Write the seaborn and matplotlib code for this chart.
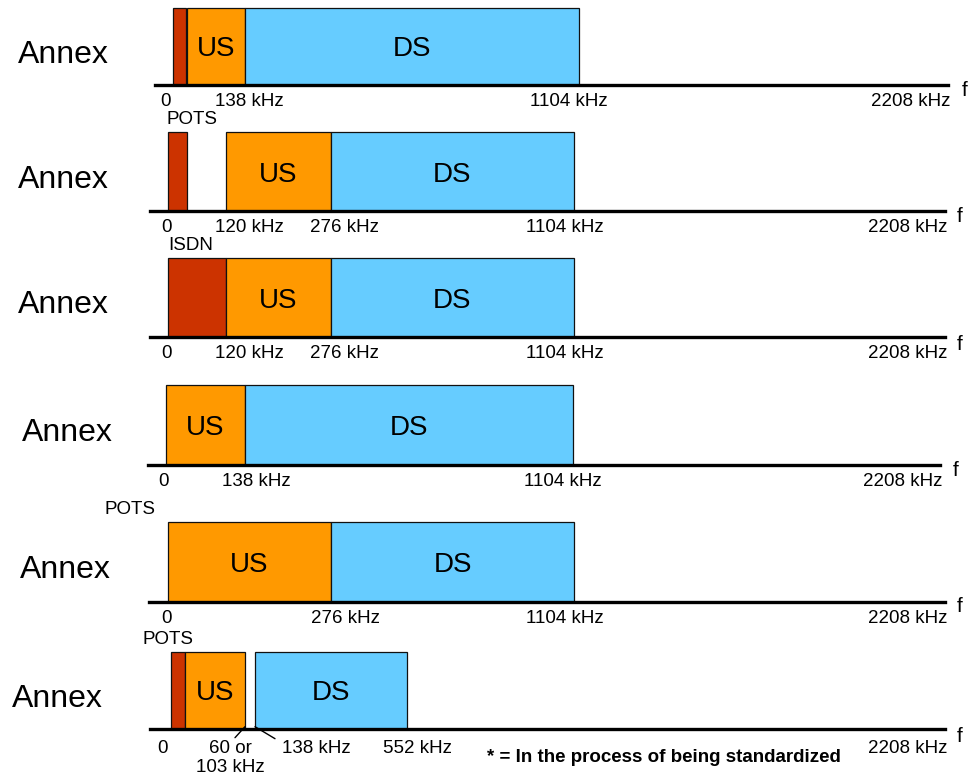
import numpy as np
import matplotlib
matplotlib.use("Agg")
import matplotlib.pyplot as plt
import seaborn as sns

# ---------------- data ----------------
row_titles = ["Annex", "Annex", "Annex", "Annex", "Annex", "Annex"]
row_service = ["", "POTS", "ISDN", "", "POTS", "POTS"]

band_row = [0, 0, 0, 1, 1, 1, 2, 2, 2, 3, 3, 4, 4, 5, 5, 5]
band_kind = ["POTS", "US", "DS", "POTS", "US", "DS", "ISDN", "US", "DS",
             "US", "DS", "US", "DS", "POTS", "US", "DS"]
band_start = [0, 25, 138, 0, 120, 276, 0, 120, 276, 0, 138, 0, 276, 0, 25, 138]
band_end = [4, 138, 1104, 4, 276, 1104, 120, 276, 1104, 138, 1104, 276, 1104, 4, 103, 552]

tick_khz = [[0, 138, 1104, 2208],
            [0, 120, 276, 1104, 2208],
            [0, 120, 276, 1104, 2208],
            [0, 138, 1104, 2208],
            [0, 276, 1104, 2208],
            [0, 103, 138, 552, 2208]]
tick_text = [["0", "138 kHz", "1104 kHz", "2208 kHz"],
             ["0", "120 kHz", "276 kHz", "1104 kHz", "2208 kHz"],
             ["0", "120 kHz", "276 kHz", "1104 kHz", "2208 kHz"],
             ["0", "138 kHz", "1104 kHz", "2208 kHz"],
             ["0", "276 kHz", "1104 kHz", "2208 kHz"],
             ["0", "60 or\n103 kHz", "138 kHz", "552 kHz", "2208 kHz"]]
leader_row = [5, 5]
leader_khz = [103, 138]
footnote = "* = In the process of being standardized"

# ---------------- layout (schematic, not to scale) ----------------
W, H = 970, 780
row_box = [(155, 948, 8, 85), (150, 945, 132, 211), (150, 945, 258, 337),
           (148, 940, 385, 465), (149, 945, 522, 602), (150, 945, 652, 729)]
knots_khz = [[0, 4, 25, 138, 1104, 2208],
             [0, 4, 120, 276, 1104, 2208],
             [0, 120, 276, 1104, 2208],
             [0, 138, 1104, 2208],
             [0, 276, 1104, 2208],
             [0, 4, 25, 103, 138, 552, 2208]]
knots_px = [[173, 186.5, 187, 245, 579, 948],
            [168, 187, 226, 331, 574, 945],
            [168, 226, 331, 574, 945],
            [166, 245, 573, 940],
            [168, 331, 574, 945],
            [171, 184.5, 185, 245, 255, 407, 945]]
tick_dx = [[-7, 4, -10, 2], [-2, 23, 13, -9, 2], [-2, 23, 13, -9, 2],
           [-2, 11, -10, 2], [-2, 14, -9, 2], [-8, -15, 61, 10, 2]]
tick_dy = [-8, -8, -8, -8, -8, -11]
service_dx = [0, -1, 0, 0, -63, -28]
leader_off = [(-10, -11), (20, -12)]
title_xy = [(18, 63), (18, 188), (18, 313), (22, 441), (20, 578), (12, 707)]
f_xy = [(965, 91), (960, 217), (960, 344), (956, 471), (960, 607), (960, 736)]

colors = {"POTS": "#CC3300", "ISDN": "#CC3300", "US": "#FF9900", "DS": "#66CCFF"}

sns.set_theme(style="white")
plt.rcParams['font.family'] = ['Liberation Sans', 'DejaVu Sans']
plt.rcParams['text.color'] = 'black'

fig = plt.figure(figsize=(W / 100, H / 100), dpi=100)
fig.patch.set_facecolor("white")

axes = []
for r, (L, R, top, base) in enumerate(row_box):
    ax = fig.add_axes([L / W, 1 - base / H, (R - L) / W, (base - top) / H])
    ax.set_facecolor("none")
    kk = np.array([-50] + knots_khz[r], dtype=float)
    kp = np.array([L] + knots_px[r], dtype=float)

    def fwd(x, kk=kk, kp=kp):
        return np.interp(x, kk, kp)

    def inv(p, kk=kk, kp=kp):
        return np.interp(p, kp, kk)

    ax.set_xscale("function", functions=(fwd, inv))
    ax.set_xlim(-50, 2208)
    ax.set_ylim(0, 1)
    for s in ["left", "right", "top"]:
        ax.spines[s].set_visible(False)
    ax.spines["bottom"].set_linewidth(2.4)
    ax.spines["bottom"].set_color("black")
    ax.spines["bottom"].set_zorder(5)
    ax.set_xticks([])
    ax.set_yticks([])
    ax._fwd, ax._inv = fwd, inv
    axes.append(ax)

# bands
for r, kind, s, e in zip(band_row, band_kind, band_start, band_end):
    ax = axes[r]
    ax.barh(0.5, e - s, left=s, height=1.0, color=colors[kind],
            edgecolor="#111111", linewidth=0.9, clip_on=False, zorder=2)
    if kind in ("US", "DS"):
        c = ax._inv((ax._fwd(s) + ax._fwd(e)) / 2.0)
        ax.annotate(kind, xy=(c, 0.5), xycoords=("data", "axes fraction"),
                    xytext=(0, -10), textcoords="offset pixels",
                    ha="center", va="baseline", fontsize=20,
                    color="black", zorder=3, annotation_clip=False)

# frequency labels
for r, ax in enumerate(axes):
    n = len(tick_khz[r])
    for i, (k, t) in enumerate(zip(tick_khz[r], tick_text[r])):
        ha = "right" if i == n - 1 else "center"
        ax.annotate(t, xy=(k, 0), xycoords=("data", "axes fraction"),
                    xytext=(tick_dx[r][i], tick_dy[r]), textcoords="offset pixels",
                    ha=ha, va="top", fontsize=13.5, linespacing=1.15,
                    multialignment="center", annotation_clip=False)
    if row_service[r]:
        ax.annotate(row_service[r], xy=(0, 1), xycoords=("data", "axes fraction"),
                    xytext=(service_dx[r], 12), textcoords="offset pixels",
                    ha="left", va="center", fontsize=13.5, annotation_clip=False)

# leader lines
for r, k, off in zip(leader_row, leader_khz, leader_off):
    axes[r].annotate("", xy=(k, 0.03), xycoords=("data", "axes fraction"),
                     xytext=off, textcoords="offset pixels",
                     arrowprops=dict(arrowstyle="-", color="black", lw=1.0,
                                     shrinkA=0, shrinkB=0),
                     annotation_clip=False)

# row titles and axis letter
for t, (x, y) in zip(row_titles, title_xy):
    fig.text(x / W, 1 - y / H, t, ha="left", va="baseline", fontsize=23)
for (x, y) in f_xy:
    fig.text(x / W, 1 - y / H, "f", ha="center", va="center", fontsize=15)

fig.text(487 / W, 1 - 758 / H, footnote, ha="left", va="center",
         fontsize=13.5, fontweight="bold")

fig.savefig("out.png", dpi=100)
